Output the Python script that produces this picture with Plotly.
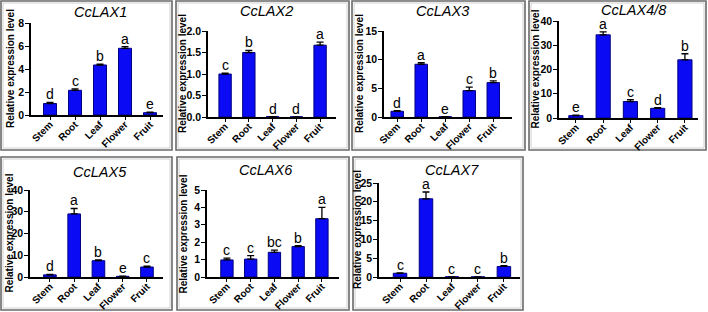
import plotly.graph_objects as go

W, H = 708, 312

tissues = ["Stem", "Root", "Leaf", "Flower", "Fruit"]
genes = ["CcLAX1", "CcLAX2", "CcLAX3", "CcLAX4/8", "CcLAX5", "CcLAX6", "CcLAX7"]

lax1_vals = [1.0, 2.15, 4.35, 5.8, 0.2]
lax1_err = [0.1, 0.12, 0.07, 0.15, 0.05]
lax1_letters = ["d", "c", "b", "a", "e"]

lax2_vals = [1.0, 1.5, 0.01, 0.005, 1.67]
lax2_err = [0.02, 0.05, 0.0, 0.0, 0.07]
lax2_letters = ["c", "b", "d", "d", "a"]

lax3_vals = [1.0, 9.2, 0.05, 4.6, 6.0]
lax3_err = [0.1, 0.3, 0.0, 0.6, 0.3]
lax3_letters = ["d", "a", "e", "c", "b"]

lax48_vals = [1.0, 34.3, 6.8, 4.0, 24.0]
lax48_err = [0.2, 1.2, 0.8, 0.3, 2.5]
lax48_letters = ["e", "a", "c", "d", "b"]

lax5_vals = [1.0, 29.0, 7.5, 0.3, 4.6]
lax5_err = [0.2, 2.5, 0.4, 0.05, 0.4]
lax5_letters = ["d", "a", "b", "e", "c"]

lax6_vals = [0.98, 1.03, 1.42, 1.75, 3.35]
lax6_err = [0.1, 0.2, 0.13, 0.05, 0.65]
lax6_letters = ["c", "c", "bc", "b", "a"]

lax7_vals = [1.0, 20.8, 0.05, 0.03, 2.8]
lax7_err = [0.1, 1.8, 0.0, 0.0, 0.2]
lax7_letters = ["c", "a", "c", "c", "b"]

y_max = [8, 2.0, 15, 40, 40, 5, 25]
y_dtick = [2, 0.5, 5, 10, 10, 1, 5]
y_fmt = ["d", ".1f", "d", "d", "d", "d", "d"]

series = [
    (lax1_vals, lax1_err, lax1_letters),
    (lax2_vals, lax2_err, lax2_letters),
    (lax3_vals, lax3_err, lax3_letters),
    (lax48_vals, lax48_err, lax48_letters),
    (lax5_vals, lax5_err, lax5_letters),
    (lax6_vals, lax6_err, lax6_letters),
    (lax7_vals, lax7_err, lax7_letters),
]

# layout geometry in pixels: plot box (x0, x1, ytop, ybottom), x-range, title pos, ylabel x, frame
geo = [
    dict(box=(31, 163, 23, 115), xr=(-0.76, 4.52), title=(100, 12), ylab=10, frame=(1, 172, 1, 150)),
    dict(box=(208, 336, 31, 117), xr=(-0.72, 4.67), title=(266, 11), ylab=182, frame=(176, 349, 1, 150)),
    dict(box=(384, 512, 31, 117), xr=(-0.55, 4.78), title=(442, 11), ylab=359, frame=(352, 525, 1, 150)),
    dict(box=(559, 698, 21, 118), xr=(-0.62, 4.48), title=(633, 10), ylab=535, frame=(529, 706, 1, 150)),
    dict(box=(30, 163, 190, 277), xr=(-0.82, 4.66), title=(100, 172), ylab=9, frame=(1, 172, 157, 310)),
    dict(box=(207, 339, 190, 277), xr=(-0.84, 4.72), title=(266, 170), ylab=183, frame=(177, 349, 157, 310)),
    dict(box=(379, 520, 183, 277), xr=(-0.81, 4.62), title=(452, 170), ylab=357, frame=(353, 523, 157, 310)),
]

FONT = "Liberation Sans, Arial, sans-serif"

def px(x):
    return x / W

def py(y):
    return 1 - y / H

fig = go.Figure()
annotations = []
shapes = []
layout_axes = {}

for i, ((vals, errs, letters), g, gene) in enumerate(zip(series, geo, genes)):
    n = i + 1
    xa = "x" if n == 1 else f"x{n}"
    ya = "y" if n == 1 else f"y{n}"
    xkey = "xaxis" if n == 1 else f"xaxis{n}"
    ykey = "yaxis" if n == 1 else f"yaxis{n}"
    x0, x1, yt, yb = g["box"]
    xpos = list(range(len(tissues)))
    fig.add_trace(go.Bar(
        x=xpos, y=vals, xaxis=xa, yaxis=ya, width=0.52,
        marker=dict(color="#0a0af5", line=dict(color="#000080", width=1)),
        error_y=dict(type="data", symmetric=False, array=errs,
                     arrayminus=[0] * len(errs), color="black", thickness=1.3, width=3.5),
        showlegend=False, hoverinfo="skip",
    ))
    layout_axes[xkey] = dict(
        domain=[px(x0), px(x1)], anchor=ya, range=list(g["xr"]),
        tickvals=xpos, ticktext=tissues, tickangle=-45,
        tickfont=dict(family=FONT, size=10, color="black", weight="bold"),
        showline=True, linecolor="black", linewidth=1.6, ticks="outside",
        ticklen=3, tickwidth=1.3, tickcolor="black", showgrid=False, zeroline=False,
        fixedrange=True, automargin=False, ticklabelstandoff=-5,
    )
    layout_axes[ykey] = dict(
        domain=[py(yb), py(yt)], anchor=xa, range=[0, y_max[i]],
        dtick=y_dtick[i], tick0=0, tickformat=y_fmt[i],
        tickfont=dict(family=FONT, size=10.5, color="black", weight="bold"),
        showline=True, linecolor="black", linewidth=1.6, ticks="outside",
        ticklen=4, tickwidth=1.3, tickcolor="black", showgrid=False, zeroline=False,
        fixedrange=True, automargin=False, ticklabelstandoff=-1,
    )
    for xi, v, e, l in zip(xpos, vals, errs, letters):
        annotations.append(dict(
            x=xi, y=v + e, xref=xa, yref=ya, text=l, showarrow=False,
            yanchor="bottom", xanchor="center", yshift=-2,
            font=dict(family=FONT, size=14, color="black"),
        ))
    tx, ty = g["title"]
    annotations.append(dict(
        x=px(tx), y=py(ty), xref="paper", yref="paper", text=f"<i>{gene}</i>",
        showarrow=False, xanchor="center", yanchor="middle",
        font=dict(family=FONT, size=14.5, color="black"),
    ))
    annotations.append(dict(
        x=px(g["ylab"]), y=py((yt + yb) / 2), xref="paper", yref="paper",
        text="Relative expression level", textangle=-90, showarrow=False,
        xanchor="center", yanchor="middle",
        font=dict(family=FONT, size=10, color="black", weight="bold"),
    ))
    fx0, fx1, fy0, fy1 = g["frame"]
    shapes.append(dict(type="rect", xref="paper", yref="paper",
                       x0=px(fx0), x1=px(fx1), y0=py(fy1), y1=py(fy0),
                       line=dict(color="#6a6a6a", width=1.6), layer="below"))
    shapes.append(dict(type="rect", xref="paper", yref="paper",
                       x0=px(fx0 + 2), x1=px(fx1 - 2), y0=py(fy1 - 2), y1=py(fy0 + 2),
                       line=dict(color="#d0d0d0", width=1), layer="below"))

fig.update_layout(
    template="none",
    width=W, height=H, margin=dict(l=0, r=0, t=0, b=0, pad=0, autoexpand=False),
    paper_bgcolor="white", plot_bgcolor="white",
    annotations=annotations, shapes=shapes, bargap=0.4,
    **layout_axes,
)

fig.write_html(
    "out.html",
    config={"displayModeBar": False},
    post_script="document.body.style.margin='0';document.body.style.padding='0';document.body.style.overflow='hidden';",
)
